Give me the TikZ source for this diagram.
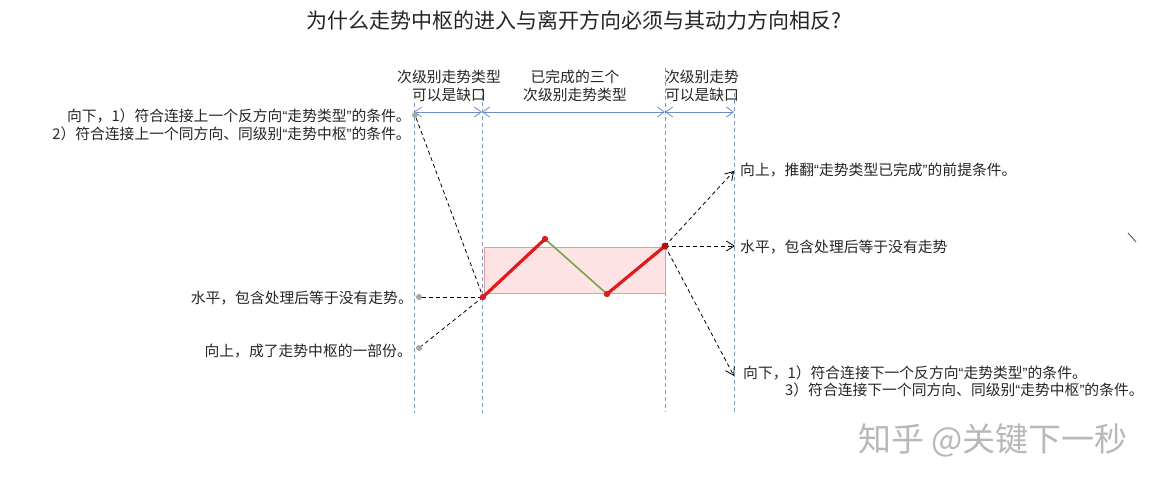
\documentclass[tikz,border=0pt]{standalone}
\usepackage{fontspec}
\setmainfont{Noto Sans CJK SC}
\newfontfamily\quotefont{Liberation Sans}
\newcommand{\myoq}{{\quotefont “}}
\newcommand{\mycq}{{\quotefont ”}}
\usetikzlibrary{arrows.meta}
\definecolor{vblue}{HTML}{7F9BC8}
\definecolor{dblue}{HTML}{6F8FC4}
\definecolor{zred}{HTML}{E01B1B}
\definecolor{zdark}{HTML}{B01010}
\definecolor{zgreen}{HTML}{79A443}
\definecolor{pinkfill}{HTML}{FDE3E3}
\definecolor{pinkdraw}{HTML}{D8A0A0}
\tikzset{
  vline/.style={draw=vblue, line width=0.8pt, dash pattern=on 4pt off 3pt},
  dimline/.style={draw=dblue, line width=0.8pt, {Straight Barb[length=7pt,width=10pt]}-{Straight Barb[length=7pt,width=10pt]}},
  conn/.style={draw=black, line width=0.8pt, dash pattern=on 4pt off 3pt},
  connarr/.style={conn, -{Straight Barb[length=8pt,width=10pt]}},
  lbl/.style={inner sep=0pt, font=\fontsize{14.8}{17.5}\selectfont, text=black!85},
  gdot/.style={circle, fill=black!35, inner sep=0pt, minimum size=6pt},
  rdot/.style={circle, fill=zred, inner sep=0pt, minimum size=6pt},
  redseg/.style={draw=zred, line width=3.2pt, line cap=round},
  greenseg/.style={draw=zgreen, line width=1.6pt},
}
\begin{document}
\begin{tikzpicture}[x=1pt,y=-1pt]
\useasboundingbox[fill=white] (0,0) rectangle (1168,487);
% title
\node[inner sep=0pt, font=\fontsize{21}{24}\selectfont, text=black!85] (title) at (574,20) {为什么走势中枢的进入与离开方向必须与其动力方向相反?};
% vertical dashed lines
\coordinate (v1t) at (414,103); \coordinate (v1b) at (414,413);
\coordinate (v2t) at (482,88);  \coordinate (v2b) at (482,413);
\coordinate (v3t) at (665,68);  \coordinate (v3b) at (665,412);
\coordinate (v4t) at (734,93);  \coordinate (v4b) at (734,412);
\draw[vline] (v1t) -- (v1b);
\draw[vline] (v2t) -- (v2b);
\draw[vline] (v3t) -- (v3b);
\draw[vline] (v4t) -- (v4b);
% dimension line
\coordinate (d1) at (414,112);
\coordinate (d2) at (482,112);
\coordinate (d3) at (665,112);
\coordinate (d4) at (734,112);
\draw[dimline] (d1) -- (d2);
\draw[dimline] (d2) -- (d3);
\draw[dimline] (d3) -- (d4);
% top labels
\node[lbl, align=center] (t1) at (449,86) {次级别走势类型\\可以是缺口};
\node[lbl, align=center] (t2) at (575,86) {已完成的三个\\次级别走势类型};
\node[lbl, align=center] (t3) at (702,86) {次级别走势\\可以是缺口};
% pink box
\node[draw=pinkdraw, fill=pinkfill, line width=0.6pt, minimum width=181pt, minimum height=46pt, inner sep=0pt, anchor=north west] (box) at (484,247) {};
% zigzag
\node[rdot] (A) at (483,297) {};
\node[rdot] (B) at (545,239) {};
\node[rdot] (C) at (607,294) {};
\node[rdot] (D) at (665,246) {};
\draw[greenseg] (B.center) -- (C.center);
\draw[redseg] (A.center) -- (B.center);
\draw[redseg] (C.center) -- (D.center);
% left dots
\node[gdot] (L1) at (415,115) {};
\node[gdot] (L2) at (419,297) {};
\node[gdot] (L3) at (419,348) {};
\draw[conn] (L1) -- (A.center);
\draw[conn] (L2) -- (A.center);
\draw[conn] (A.center) -- (L3);
% right arrow ends
\coordinate (R1) at (734,171);
\coordinate (R2) at (735,246);
\coordinate (R3) at (734,376);
\draw[connarr] (D.center) -- (R1);
\draw[connarr] (D.center) -- (R2);
\draw[connarr] (D.center) -- (R3);
% dots on top
\node[rdot] at (A) {};
\node[rdot] at (B) {};
\node[rdot] at (C) {};
\node[rdot, fill=zdark, minimum size=7pt] at (D) {};
% left texts
\node[lbl, align=right, anchor=east] (lt1) at (411,125) {向下，1）符合连接上一个反方向\myoq 走势类型\mycq 的条件。\\2）符合连接上一个同方向、同级别\myoq 走势中枢\mycq 的条件。};
\node[lbl, anchor=east] (lt2) at (413,298) {水平，包含处理后等于没有走势。};
\node[lbl, anchor=east] (lt3) at (412,351) {向上，成了走势中枢的一部份。};
% right texts
\node[lbl, anchor=west] (rt1) at (740,170) {向上，推翻\myoq 走势类型已完成\mycq 的前提条件。};
\node[lbl, anchor=west] (rt2) at (740,247) {水平，包含处理后等于没有走势};
\node[lbl, anchor=west] (rt3) at (743,373) {向下，1）符合连接下一个反方向\myoq 走势类型\mycq 的条件。};
\node[lbl, anchor=west] (rt4) at (785,390) {3）符合连接下一个同方向、同级别\myoq 走势中枢\mycq 的条件。};
% stray mark
\coordinate (s1) at (1128,233);
\coordinate (s2) at (1136,242);
\draw[black!70, line width=0.8pt] (s1) -- (s2);
% watermark
\node[inner sep=0pt, font=\fontsize{33}{36}\selectfont, text=black!28] (wm) at (993,440) {知乎 @关键下一秒};
\end{tikzpicture}
\end{document}
